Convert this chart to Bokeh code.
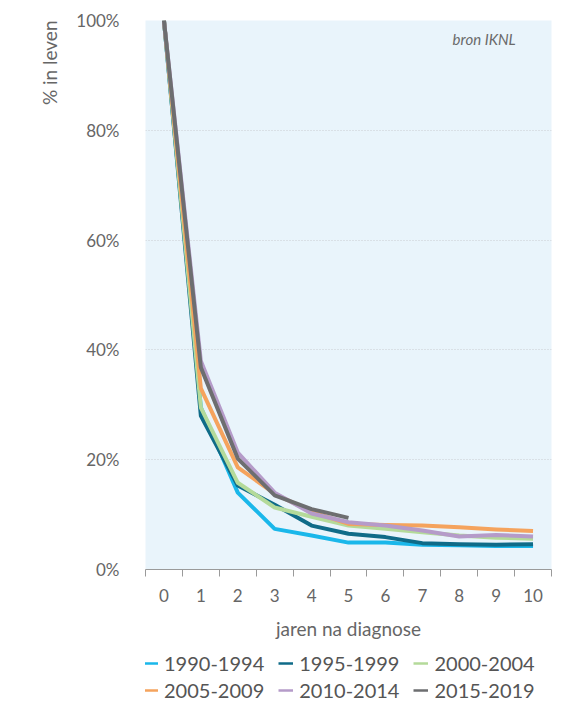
import math
from bokeh.plotting import figure
from bokeh.layouts import column
from bokeh.models import FixedTicker, Label, Legend, LegendItem, Title, CustomJSTickFormatter
from bokeh.embed import file_html
from bokeh.resources import INLINE

years = list(range(11))
series_names = ["1990-1994", "1995-1999", "2000-2004", "2005-2009", "2010-2014", "2015-2019"]
s1990 = [100, 29.5, 14.0, 7.4, 6.2, 4.9, 4.9, 4.5, 4.4, 4.3, 4.3]
s1995 = [100, 28.0, 15.3, 11.8, 8.0, 6.5, 5.9, 4.8, 4.6, 4.5, 4.6]
s2000 = [100, 29.5, 15.8, 11.3, 9.6, 8.0, 7.4, 6.8, 6.2, 5.8, 5.6]
s2005 = [100, 33.0, 18.6, 13.8, 10.5, 8.3, 8.1, 8.0, 7.7, 7.3, 7.0]
s2010 = [100, 38.0, 21.3, 14.0, 10.2, 8.6, 8.0, 7.1, 6.0, 6.3, 6.0]
s2015 = [100, 36.8, 20.2, 13.5, 11.0, 9.4]
all_series = [s1990, s1995, s2000, s2005, s2010, s2015]
colors = ["#1ab7ea", "#0f6b88", "#b4da9a", "#f5a35d", "#b59bc9", "#6d6e70"]
ytick_vals = [0, 20, 40, 60, 80, 100]

FONT = "Lato"
TXT = "#666666"

p = figure(width=569, height=645, output_backend="svg", toolbar_location=None,
           x_range=(-0.5, 10.5), y_range=(0, 100),
           min_border_left=145, min_border_right=18, min_border_top=20, min_border_bottom=76)
p.background_fill_color = "#e9f4fb"
p.border_fill_color = "white"
p.outline_line_color = None

# x axis
p.xaxis.ticker = FixedTicker(ticks=years, minor_ticks=[y - 0.5 for y in years] + [10.5])
p.xaxis.major_tick_line_color = None
p.xaxis.minor_tick_line_color = "#9a9a9a"
p.xaxis.minor_tick_in = 0
p.xaxis.minor_tick_out = 7
p.xaxis.axis_line_color = "#9a9a9a"
p.xaxis.major_label_text_font = FONT
p.xaxis.major_label_text_font_size = "17px"
p.xaxis.major_label_text_color = TXT
p.xaxis.major_label_standoff = 12
p.xaxis.axis_label = "jaren na diagnose"
p.xaxis.axis_label_text_font = FONT
p.xaxis.axis_label_text_font_size = "19px"
p.xaxis.axis_label_text_font_style = "normal"
p.xaxis.axis_label_text_color = TXT
p.xaxis.axis_label_standoff = 12

# y axis
p.yaxis.ticker = FixedTicker(ticks=ytick_vals)
p.yaxis.formatter = CustomJSTickFormatter(code="return tick + '%';")
p.yaxis.axis_line_color = None
p.yaxis.major_tick_line_color = None
p.yaxis.minor_tick_line_color = None
p.yaxis.major_label_text_font = FONT
p.yaxis.major_label_text_font_size = "17px"
p.yaxis.major_label_text_color = TXT
p.yaxis.major_label_standoff = 20

p.xgrid.grid_line_color = None
p.ygrid.grid_line_color = "#c8ccd0"
p.ygrid.grid_line_dash = "1 2"
p.ygrid.grid_line_width = 1

for name, vals, c in zip(series_names, all_series, colors):
    p.line(years[:len(vals)], vals, line_color=c, line_width=4, line_join="round", line_cap="butt")

# y axis title at top (left side panel)
ytitle = Title(text="% in leven", align="right", text_font=FONT, text_font_size="19px",
               text_font_style="normal", text_color=TXT, standoff=25)
p.add_layout(ytitle, "left")

p.add_layout(Label(x=9.53, y=96.6, text="bron IKNL", text_align="right", text_baseline="middle",
                   text_font=FONT, text_font_size="15px", text_font_style="italic", text_color="#6a6a6a"))

# legend figure (lines drawn outside its visible range so only the legend shows)
lg = figure(width=569, height=56, output_backend="svg", toolbar_location=None,
            x_range=(100, 101), y_range=(100, 101), min_border=0)
lg.axis.visible = False
lg.grid.visible = False
lg.outline_line_color = None
lg.background_fill_color = "white"
items = []
for name, vals, c in zip(series_names, all_series, colors):
    r = lg.line(years[:len(vals)], vals, line_color=c, line_width=2.5)
    items.append(LegendItem(label=name, renderers=[r]))

def make_legend(its, y):
    return Legend(items=its, orientation="horizontal", location=(-2, y),
                  label_text_font=FONT, label_text_font_size="20px", label_text_color="#555555",
                  glyph_width=15, glyph_height=10, label_standoff=6, spacing=14,
                  background_fill_alpha=0, border_line_color=None, padding=0, margin=0,
                  label_height=20)

lg.add_layout(make_legend(items[:3], 26), "center")
lg.add_layout(make_legend(items[3:], -1), "center")

open("out.html", "w").write(file_html(column(p, lg, spacing=0), INLINE))
